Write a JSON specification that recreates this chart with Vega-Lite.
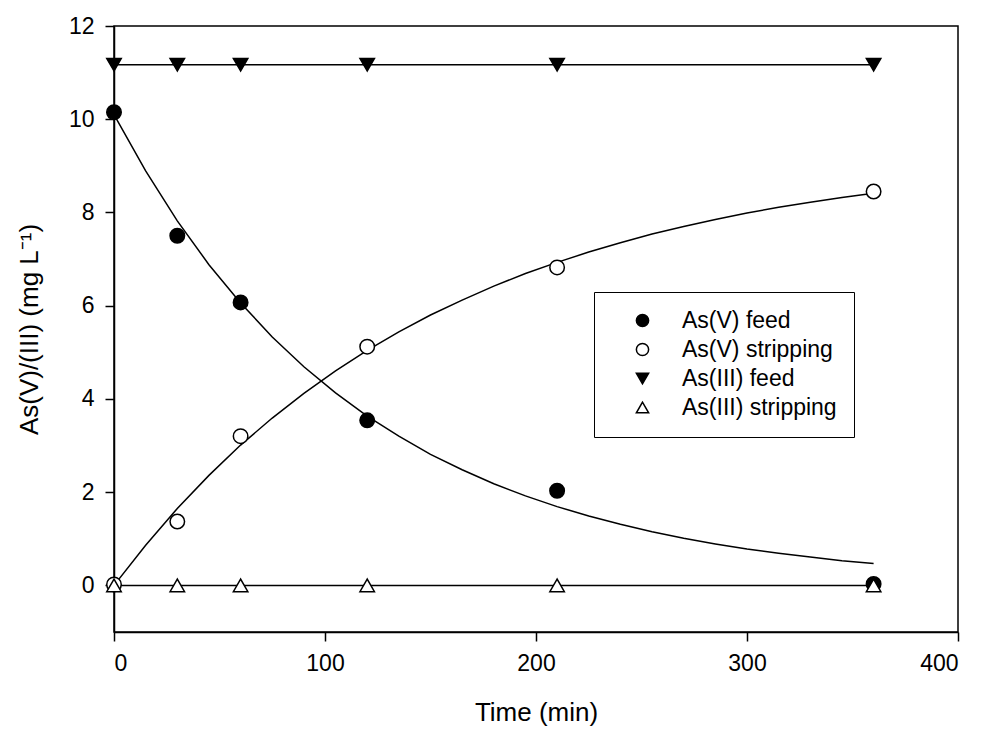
{
  "$schema": "https://vega.github.io/schema/vega-lite/v6.json",
  "autosize": "none",
  "width": 844,
  "height": 606,
  "padding": {"left": 114, "top": 26, "right": 23, "bottom": 97},
  "background": "white",
  "config": {
    "font": "Liberation Sans",
    "view": {"stroke": "black", "strokeWidth": 1.5},
    "axis": {
      "grid": false,
      "domainColor": "black",
      "domainWidth": 1.5,
      "tickColor": "black",
      "tickWidth": 1.5,
      "tickSize": 9,
      "labelColor": "black",
      "labelFontSize": 23,
      "titleColor": "black",
      "titleFontSize": 26,
      "titleFontWeight": "normal"
    },
    "legend": {
      "orient": "none", "legendX": 480, "legendY": 266, "strokeColor": "black", "padding": 17, "symbolOffset": 20, "labelOffset": 28, "labelFontSize": 23, "labelColor": "black", "symbolSize": 150, "symbolStrokeColor": "black", "symbolStrokeWidth": 1.5, "rowPadding": 5, "fillColor": "white", "labelLimit": 400
    }
  },
  "datasets": {
    "points": [
      {"series": "As(V) feed", "time": 0, "value": 10.15},
      {"series": "As(V) feed", "time": 30, "value": 7.5},
      {"series": "As(V) feed", "time": 60, "value": 6.07},
      {"series": "As(V) feed", "time": 120, "value": 3.54},
      {"series": "As(V) feed", "time": 210, "value": 2.03},
      {"series": "As(V) feed", "time": 360, "value": 0.03},
      {"series": "As(V) stripping", "time": 0, "value": 0.02},
      {"series": "As(V) stripping", "time": 30, "value": 1.37},
      {"series": "As(V) stripping", "time": 60, "value": 3.2},
      {"series": "As(V) stripping", "time": 120, "value": 5.12},
      {"series": "As(V) stripping", "time": 210, "value": 6.82},
      {"series": "As(V) stripping", "time": 360, "value": 8.45},
      {"series": "As(III) feed", "time": 0, "value": 11.17},
      {"series": "As(III) feed", "time": 30, "value": 11.17},
      {"series": "As(III) feed", "time": 60, "value": 11.17},
      {"series": "As(III) feed", "time": 120, "value": 11.17},
      {"series": "As(III) feed", "time": 210, "value": 11.17},
      {"series": "As(III) feed", "time": 360, "value": 11.17},
      {"series": "As(III) stripping", "time": 0, "value": 0},
      {"series": "As(III) stripping", "time": 30, "value": 0},
      {"series": "As(III) stripping", "time": 60, "value": 0},
      {"series": "As(III) stripping", "time": 120, "value": 0},
      {"series": "As(III) stripping", "time": 210, "value": 0},
      {"series": "As(III) stripping", "time": 360, "value": 0}
    ],
    "curves": [
      {"curve": "feed fit", "time": 0, "value": 10.1},
      {"curve": "feed fit", "time": 15, "value": 8.89},
      {"curve": "feed fit", "time": 30, "value": 7.82},
      {"curve": "feed fit", "time": 45, "value": 6.88},
      {"curve": "feed fit", "time": 60, "value": 6.06},
      {"curve": "feed fit", "time": 75, "value": 5.33},
      {"curve": "feed fit", "time": 90, "value": 4.69},
      {"curve": "feed fit", "time": 105, "value": 4.13},
      {"curve": "feed fit", "time": 120, "value": 3.63},
      {"curve": "feed fit", "time": 135, "value": 3.2},
      {"curve": "feed fit", "time": 150, "value": 2.81},
      {"curve": "feed fit", "time": 165, "value": 2.48},
      {"curve": "feed fit", "time": 180, "value": 2.18},
      {"curve": "feed fit", "time": 195, "value": 1.92},
      {"curve": "feed fit", "time": 210, "value": 1.69},
      {"curve": "feed fit", "time": 225, "value": 1.49},
      {"curve": "feed fit", "time": 240, "value": 1.31},
      {"curve": "feed fit", "time": 255, "value": 1.15},
      {"curve": "feed fit", "time": 270, "value": 1.01},
      {"curve": "feed fit", "time": 285, "value": 0.89},
      {"curve": "feed fit", "time": 300, "value": 0.78},
      {"curve": "feed fit", "time": 315, "value": 0.69},
      {"curve": "feed fit", "time": 330, "value": 0.61},
      {"curve": "feed fit", "time": 345, "value": 0.53},
      {"curve": "feed fit", "time": 360, "value": 0.47},
      {"curve": "stripping fit", "time": 0, "value": 0},
      {"curve": "stripping fit", "time": 15, "value": 0.86},
      {"curve": "stripping fit", "time": 30, "value": 1.65},
      {"curve": "stripping fit", "time": 45, "value": 2.36},
      {"curve": "stripping fit", "time": 60, "value": 3.01},
      {"curve": "stripping fit", "time": 75, "value": 3.59},
      {"curve": "stripping fit", "time": 90, "value": 4.12},
      {"curve": "stripping fit", "time": 105, "value": 4.6},
      {"curve": "stripping fit", "time": 120, "value": 5.04},
      {"curve": "stripping fit", "time": 135, "value": 5.44},
      {"curve": "stripping fit", "time": 150, "value": 5.8},
      {"curve": "stripping fit", "time": 165, "value": 6.12},
      {"curve": "stripping fit", "time": 180, "value": 6.42},
      {"curve": "stripping fit", "time": 195, "value": 6.69},
      {"curve": "stripping fit", "time": 210, "value": 6.93},
      {"curve": "stripping fit", "time": 225, "value": 7.15},
      {"curve": "stripping fit", "time": 240, "value": 7.35},
      {"curve": "stripping fit", "time": 255, "value": 7.54},
      {"curve": "stripping fit", "time": 270, "value": 7.7},
      {"curve": "stripping fit", "time": 285, "value": 7.85},
      {"curve": "stripping fit", "time": 300, "value": 7.99},
      {"curve": "stripping fit", "time": 315, "value": 8.11},
      {"curve": "stripping fit", "time": 330, "value": 8.22},
      {"curve": "stripping fit", "time": 345, "value": 8.32},
      {"curve": "stripping fit", "time": 360, "value": 8.41},
      {"curve": "As(III) feed line", "time": 0, "value": 11.17},
      {"curve": "As(III) feed line", "time": 360, "value": 11.17},
      {"curve": "As(III) stripping line", "time": 0, "value": 0},
      {"curve": "As(III) stripping line", "time": 360, "value": 0}
    ]
  },
  "encoding": {
    "x": {
      "field": "time",
      "type": "quantitative",
      "scale": {"domain": [0, 400], "nice": false, "zero": false},
      "axis": {"values": [0, 100, 200, 300, 400], "title": "Time (min)", "labelPadding": 11, "titlePadding": 24}
    },
    "y": {
      "field": "value",
      "type": "quantitative",
      "scale": {"domain": [-1, 12], "nice": false, "zero": false},
      "axis": {"values": [0, 2, 4, 6, 8, 10, 12], "title": "As(V)/(III) (mg L⁻¹)", "labelPadding": 11, "titlePadding": 26}
    }
  },
  "layer": [
    {
      "data": {"name": "curves"},
      "mark": {"type": "line", "color": "black", "strokeWidth": 1.5, "clip": false},
      "encoding": {"detail": {"field": "curve"}}
    },
    {
      "data": {"name": "points"},
      "mark": {"type": "point", "filled": false, "strokeWidth": 1.5, "size": 210, "opacity": 1, "clip": false},
      "encoding": {
        "shape": {
          "field": "series",
          "type": "nominal",
          "scale": {"domain": ["As(V) feed", "As(V) stripping", "As(III) feed", "As(III) stripping"], "range": ["circle", "circle", "triangle-down", "triangle-up"]},
          "legend": {"title": null}
        },
        "fill": {
          "field": "series",
          "type": "nominal",
          "scale": {"domain": ["As(V) feed", "As(V) stripping", "As(III) feed", "As(III) stripping"], "range": ["black", "white", "black", "white"]},
          "legend": {"title": null}
        },
        "stroke": {
          "field": "series",
          "type": "nominal",
          "scale": {"domain": ["As(V) feed", "As(V) stripping", "As(III) feed", "As(III) stripping"], "range": ["black", "black", "black", "black"]},
          "legend": {"title": null}
        }
      }
    }
  ]
}
